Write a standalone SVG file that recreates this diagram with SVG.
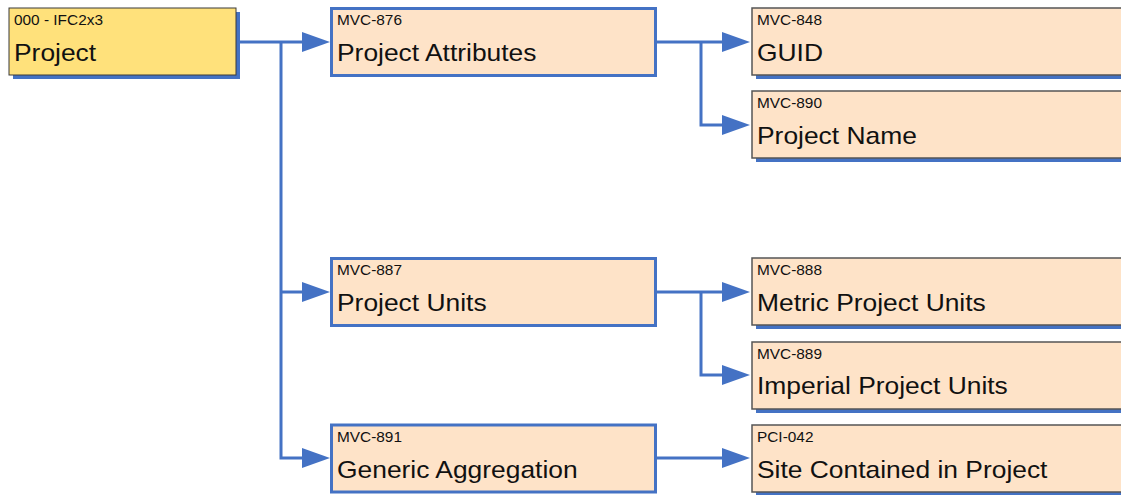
<svg xmlns="http://www.w3.org/2000/svg" xmlns:xlink="http://www.w3.org/1999/xlink" width="1121" height="495" viewBox="0 0 1121 495">
<style>
.root{fill:#FFE17B;stroke:#3a3a3a;stroke-width:1}
.l1{fill:#FEE3C8;stroke:#4472C4;stroke-width:3}
.l2{fill:#FEE3C8;stroke:#555555;stroke-width:1.5}
.sh{fill:#4472C4}
.id{font-family:"Liberation Sans",Arial,sans-serif;font-size:14px;fill:#111}
.nm{font-family:"Liberation Sans",Arial,sans-serif;font-size:24px;fill:#111}
.cn{fill:none;stroke:#4472C4;stroke-width:3;stroke-linejoin:miter}
.ah{fill:#4472C4}
</style>
<defs>
<path id="ah" d="M0,-10 L28,0 L0,10 z"/>
</defs>
<rect width="1121" height="495" fill="#ffffff"/>
<g id="connectors">
<path class="cn" d="M236 42 H281 V458 H305 M281 42 H305 M281 292 H305"/>
<path class="cn" d="M656 42 H701 V125 H724 M701 42 H724"/>
<path class="cn" d="M656 292 H701 V375 H724 M701 292 H724"/>
<path class="cn" d="M656 458 H724"/>
<use href="#ah" class="ah" x="302" y="42"/>
<use href="#ah" class="ah" x="302" y="292"/>
<use href="#ah" class="ah" x="302" y="458"/>
<use href="#ah" class="ah" x="722" y="42"/>
<use href="#ah" class="ah" x="722" y="125"/>
<use href="#ah" class="ah" x="722" y="292"/>
<use href="#ah" class="ah" x="722" y="375"/>
<use href="#ah" class="ah" x="722" y="458"/>
</g>
<g id="node-project">
<rect class="sh" x="13" y="12" width="227" height="67"/>
<rect class="root" x="9" y="8" width="227" height="67"/>
<text class="id" transform="translate(14 25) scale(1.1 1)">000 - IFC2x3</text>
<text class="nm" transform="translate(14 61) scale(1.1 1)">Project</text>
</g>
<g id="node-mvc-876">
<rect class="l1" x="331.5" y="8.5" width="324" height="67"/>
<text class="id" transform="translate(337 25) scale(1.1 1)">MVC-876</text>
<text class="nm" transform="translate(337 61) scale(1.1 1)">Project Attributes</text>
</g>
<g id="node-mvc-887">
<rect class="l1" x="331.5" y="258.5" width="324" height="67"/>
<text class="id" transform="translate(337 275) scale(1.1 1)">MVC-887</text>
<text class="nm" transform="translate(337 311) scale(1.1 1)">Project Units</text>
</g>
<g id="node-mvc-891">
<rect class="l1" x="331.5" y="425" width="324" height="67"/>
<text class="id" transform="translate(337 442) scale(1.1 1)">MVC-891</text>
<text class="nm" transform="translate(337 478) scale(1.1 1)">Generic Aggregation</text>
</g>
<g id="node-mvc-848">
<rect class="sh" x="756" y="12" width="400" height="67"/>
<rect class="l2" x="752" y="8" width="400" height="67"/>
<text class="id" transform="translate(757 25) scale(1.1 1)">MVC-848</text>
<text class="nm" transform="translate(757 61) scale(1.1 1)">GUID</text>
</g>
<g id="node-mvc-890">
<rect class="sh" x="756" y="95" width="400" height="67"/>
<rect class="l2" x="752" y="91" width="400" height="67"/>
<text class="id" transform="translate(757 108) scale(1.1 1)">MVC-890</text>
<text class="nm" transform="translate(757 144) scale(1.1 1)">Project Name</text>
</g>
<g id="node-mvc-888">
<rect class="sh" x="756" y="262" width="400" height="67"/>
<rect class="l2" x="752" y="258" width="400" height="67"/>
<text class="id" transform="translate(757 275) scale(1.1 1)">MVC-888</text>
<text class="nm" transform="translate(757 311) scale(1.1 1)">Metric Project Units</text>
</g>
<g id="node-mvc-889">
<rect class="sh" x="756" y="346" width="400" height="67"/>
<rect class="l2" x="752" y="342" width="400" height="67"/>
<text class="id" transform="translate(757 358.5) scale(1.1 1)">MVC-889</text>
<text class="nm" transform="translate(757 394) scale(1.1 1)">Imperial Project Units</text>
</g>
<g id="node-pci-042">
<rect class="sh" x="756" y="429" width="400" height="67"/>
<rect class="l2" x="752" y="425" width="400" height="67"/>
<text class="id" transform="translate(757 442) scale(1.1 1)">PCI-042</text>
<text class="nm" transform="translate(757 477.5) scale(1.1 1)">Site Contained in Project</text>
</g>
</svg>
